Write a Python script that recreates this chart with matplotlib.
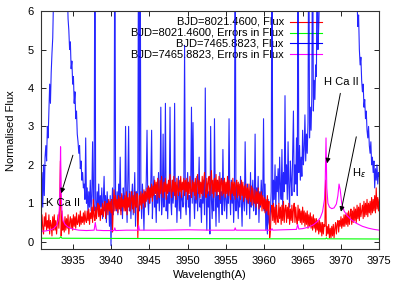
import numpy as np
import matplotlib
matplotlib.use('Agg')
import matplotlib.pyplot as plt

plt.rcParams['font.family'] = ['Liberation Sans', 'DejaVu Sans']
plt.rcParams['font.size'] = 8

# sample grid for the two flux series (Angstrom, 0.1 step)
wavelength = np.round(np.arange(3930.8, 3975.05, 0.1), 1)

# BJD=7465.8823 flux (values > 6 run off the top of the plot)
flux_7465 = [
    1.3, 0.3, 1.8, 0.9, 2.0, 1.2, 2.2, 2.5, 2.1, 3.0,
    2.7, 3.4, 4.1, 3.6, 4.4, 4.9, 5.3, 6.3, 7.5, 8.5,
    9, 9, 9, 9, 9, 9, 9, 9, 9, 9,
    9, 9, 9, 9, 8.0, 6.6, 5.8, 5.5, 5.0, 5.2,
    4.5, 4.7, 4.1, 4.3, 3.6, 3.9, 3.2, 3.4, 2.8, 2.6,
    2.3, 2.5, 1.9, 2.1, 1.6, 1.8, 1.4, 1.5, 1.1, 2.7,
    1.0, 1.4, 0.7, 1.3, 0.9, 1.6, 0.8, 1.2, 2.6, 1.0,
    0.8, 9.0, 1.1, 0.6, 1.3, 0.9, 1.5, 0.7, 1.2, 0.9,
    1.4, 0.6, 1.1, 1.7, 0.8, 1.2, 0.5, 1.3, 0.9, 1.0,
    0.4, 1.2, -0.1, 0.9, 1.4, 0.7, 1.1, 9.0, 1.0, 0.8,
    1.3, 0.7, 1.5, 1.0, 2.2, 0.8, 1.2, 0.6, 1.4, 1.1,
    0.9, 3.0, 1.2, 0.5, 1.6, 3.0, 0.8, 1.3, 0.6, 1.2,
    1.5, 0.7, 1.1, 1.8, 0.4, 1.3, 0.9, 1.4, 9.0, 0.8,
    9.0, 1.2, 0.6, 1.5, 1.0, 0.3, 1.3, 0.9, 1.6, 2.9,
    1.1, 0.7, 1.4, 1.0, 1.6, 2.9, 0.6, 1.3, 1.7, 0.9,
    1.2, 0.5, 1.5, 1.0, 1.8, 0.8, 1.3, 3.5, 0.7, 1.1,
    2.8, 0.9, 1.4, 3.6, 0.8, 1.2, 0.6, 1.5, 1.0, 3.5,
    1.1, 0.7, 1.6, 1.0, 1.3, 3.6, 0.9, 1.4, 0.5, 1.2,
    1.7, 0.8, 1.3, 0.6, 1.5, 1.1, 0.9, 1.4, 5.1, 1.0,
    0.7, 1.3, 1.8, 0.9, 1.2, 0.4, 1.5, 3.5, 1.0, 3.1,
    1.2, 0.6, 1.4, 1.0, 1.7, 0.8, 1.3, 2.2, 0.9, 1.1,
    0.5, 1.4, 1.0, 1.6, 0.7, 4.0, 1.2, 0.3, 1.5, 0.9,
    1.3, 0.2, 3.0, 1.1, 0.6, 1.4, 0.8, 3.2, 1.2, 0.4,
    1.6, 0.9, 1.2, 0.5, 1.8, 1.0, 1.3, 0.7, 2.4, 1.1,
    0.8, 1.5, 1.1, 0.6, 1.4, 1.0, 3.2, 1.3, 0.7, 1.6,
    1.0, 1.4, 0.5, 1.2, 9.0, 0.8, 1.5, 1.1, 0.6, 1.3,
    0.9, 1.7, 1.0, 0.4, 1.4, 1.1, 0.8, 2.6, 1.2, 0.7,
    1.5, 1.0, 1.3, 0.6, 1.8, 0.9, 1.2, 1.6, 0.8, 1.1,
    2.8, 0.7, 1.4, 1.0, 1.7, 0.5, 1.3, 0.9, 1.6, 1.1,
    1.2, 3.2, 0.8, 1.5, 0.3, 0.9, 0.2, 1.1, 0.5, 0.4,
    0.8, 1.3, 9.0, 0.9, 1.6, 1.1, 2.0, 0.8, 1.7, 1.3,
    1.9, 1.0, 2.2, 1.4, 1.1, 2.4, 0.9, 1.8, 1.3, 3.8,
    1.5, 2.0, 1.1, 2.6, 1.4, 0.9, 2.1, 1.6, 1.2, 2.3,
    3.4, 1.3, 2.0, 1.5, 2.7, 1.2, 9.0, 1.8, 2.5, 1.6,
    2.2, 1.7, 2.9, 2.0, 2.4, 3.3, 2.1, 2.8, 2.3, 3.1,
    9.0, 2.7, 3.5, 2.9, 3.8, 9.0, 3.4, 4.2, 3.7, 4.6,
    4.3, 9.0, 5.0, 5.6, 6.4, 7.5, 9, 9, 9, 9,
    9, 9, 9, 9, 9, 9, 9, 9, 9, 9,
    9, 9, 9, 9, 9, 9, 9, 9, 9, 9,
    9, 9, 9, 9, 9, 9, 9, 9, 9, 9,
    9, 9, 9, 9, 9, 9, 9, 9, 9, 9,
    9, 9, 8.0, 6.3, 5.6, 5.9, 5.0, 4.6, 4.8, 4.2,
    3.9, 4.1, 3.5, 3.7, 3.2, 3.4, 2.9, 2.7, 3.0, 2.5,
    2.3, 2.6, 2.0, 2.2, 1.8, 2.1, 1.4, 1.9, 1.6, 2.0,
    1.5, 1.8, 1.7,
]

# BJD=8021.4600 flux
flux_8021 = [
    0.6, 0.25, 0.7, 0.35, 0.2, 0.65, 0.4, 0.75, 0.3, 0.55,
    0.35, 0.7, 0.2, 0.55, 0.45, 0.15, 0.65, 0.3, 0.7, 0.3,
    0.55, 0.2, 0.5, 0.7, 0.35, 0.9, 2.1, 0.15, 0.8, 0.3,
    0.5, 0.25, 0.65, 0.3, 0.6, 0.35, 0.7, 0.2, 0.5, 0.65,
    0.35, 0.6, 0.3, 0.7, 0.4, 0.65, 0.35, 0.75, 0.45, 0.5,
    0.7, 0.4, 0.8, 0.45, 0.65, 0.5, 0.75, 0.45, 0.8, 0.55,
    0.5, 0.8, 0.55, 0.85, 0.45, 0.75, 0.6, 0.9, 0.5, 1.1,
    0.65, 0.55, 0.9, 0.6, 0.85, 1.0, 0.65, 0.95, 0.55, 0.85,
    0.7, 1.0, 0.65, 0.95, 1.05, 0.6, 0.9, 1.0, 0.7, 1.1,
    0.8, 1.05, 0.75, 1.1, 0.25, 0.95, 1.35, 0.8, 1.2, 0.85,
    1.1, 0.75, 1.2, 0.85, 1.15, 0.7, 1.25, 0.9, 1.1, 0.8,
    1.2, 0.8, 1.3, 0.7, 1.15, 0.9, 1.25, 0.8, 1.1, 1.3,
    0.85, 1.2, 0.75, 1.3, 0.95, 0.9, 1.25, 0.1, 0.85, 1.2,
    0.95, 1.3, 0.85, 1.25, 1.0, 1.35, 0.9, 1.3, 1.05, 1.4,
    1.1, 1.45, 1.0, 1.4, 1.15, 1.5, 1.05, 1.45, 1.2, 1.6,
    1.25, 1.55, 1.1, 1.65, 1.3, 1.15, 1.6, 1.25, 1.7, 1.35,
    1.15, 1.55, 1.3, 1.65, 1.1, 1.5, 1.25, 1.6, 1.3, 1.75,
    1.35, 1.15, 1.6, 1.3, 1.7, 1.2, 1.55, 1.1, 1.65, 1.35,
    1.2, 1.6, 1.3, 1.7, 1.15, 1.55, 1.35, 1.65, 1.2, 1.6,
    1.3, 1.65, 1.1, 1.55, 1.25, 1.7, 1.35, 1.15, 1.6, 1.3,
    1.55, 1.2, 1.65, 1.1, 1.5, 1.75, 1.25, 1.6, 1.15, 1.55,
    1.25, 1.7, 1.2, 1.6, 1.8, 1.3, 1.15, 1.65, 1.25, 1.55,
    1.7, 1.2, 1.55, 1.85, 1.25, 1.6, 1.15, 1.65, 1.3, 1.75,
    1.2, 1.6, 1.3, 1.7, 1.1, 1.55, 1.65, 1.2, 1.6, 1.25,
    1.65, 1.15, 1.55, 1.25, 1.7, 1.2, 1.6, 1.3, 1.1, 1.55,
    1.25, 1.65, 1.2, 1.55, 1.1, 1.5, 1.6, 1.15, 1.55, 1.2,
    1.5, 1.1, 1.6, 1.2, 1.55, 1.05, 1.45, 1.15, 1.5, 1.1,
    1.4, 1.0, 1.5, 1.15, 1.05, 1.45, 0.95, 1.4, 1.1, 1.0,
    1.35, 0.9, 1.3, 1.0, 1.4, 0.85, 1.25, 0.95, 1.3, 0.8,
    1.2, 0.85, 1.15, 0.75, 1.1, 0.8, 1.2, 0.7, 1.05, 0.1,
    0.3, 0.8, 0.95, 0.55, 1.0, 0.5, 0.9, 0.45, 0.95, 0.6,
    0.5, 1.0, 0.6, 0.9, 0.45, 0.95, 0.55, 1.05, 0.5, 0.85,
    0.95, 0.5, 0.9, 0.6, 1.0, 0.45, 0.85, 0.55, 0.95, 0.5,
    0.85, 1.0, 0.5, 0.9, 0.6, 0.45, 0.95, 0.55, 0.85, 0.5,
    0.8, 0.45, 0.9, 0.5, 0.8, 0.4, 0.75, 0.45, 0.8, 0.35,
    0.7, 0.4, 0.75, 0.35, 0.65, 0.3, 0.7, 0.35, 0.6, 0.25,
    0.6, 0.3, 0.55, 0.2, 0.55, 0.25, 0.5, 0.15, 0.5, 0.2,
    0.45, 0.4, 1.6, 0.15, 0.4, 0.2, 0.45, 0.1, 0.35, 0.1,
    0.4, 0.15, 0.45, 0.1, 0.35, 0.5, 0.2, 0.45, 0.55, 0.25,
    0.55, 0.4, 0.65, 0.35, 0.6, 0.4, 0.7, 0.4, 0.7, 0.45,
    0.75, 0.4, 0.8, 0.45, 0.7, 0.85, 0.45, 0.8, 0.5, 0.9,
    0.55, 0.85, 0.5, 0.95, 0.6, 0.9, 0.55, 1.0, 0.65, 0.8,
    0.95, 0.6, 1.05, 0.65, 1.0, 0.7, 1.1, 0.65, 1.0, 0.75,
    1.05, 0.7, 1.15, 0.75, 1.1, 0.8, 1.2, 0.75, 1.4, 0.85,
    1.15, 0.8, 1.1,
]

# errors in flux, BJD=7465.8823 (smooth, so sampled where it bends)
err_7465_wl = [3930.8, 3931.5, 3932.0, 3932.5, 3932.9, 3933.1, 3933.25, 3933.35, 3933.42, 3933.5,
               3933.6, 3933.75, 3934.0, 3934.4, 3935.0, 3935.8, 3936.8, 3937.8, 3937.95, 3938.1,
               3939.0, 3940.4, 3940.5, 3940.6, 3942.0, 3943.5, 3943.6, 3943.7, 3945.0, 3947.0,
               3950.0, 3953.0, 3956.1, 3956.2, 3956.3, 3958.0, 3960.9, 3961.0, 3961.1, 3962.5,
               3964.2, 3964.35, 3964.5, 3965.0, 3965.8, 3966.4, 3966.9, 3967.3, 3967.6, 3967.85,
               3967.95, 3968.05, 3968.15, 3968.3, 3968.5, 3968.8, 3969.1, 3969.4, 3969.6, 3969.75,
               3969.9, 3970.1, 3970.4, 3970.8, 3971.3, 3972.0, 3972.8, 3973.6, 3974.3, 3975.0]
err_7465 = [0.27, 0.28, 0.3, 0.34, 0.42, 0.55, 0.8, 1.4, 2.47, 1.3,
            0.75, 0.55, 0.45, 0.38, 0.33, 0.3, 0.29, 0.3, 0.5, 0.3,
            0.29, 0.29, 0.36, 0.29, 0.3, 0.3, 0.42, 0.3, 0.3, 0.3,
            0.31, 0.3, 0.3, 0.36, 0.3, 0.3, 0.3, 0.34, 0.3, 0.31,
            0.32, 0.45, 0.33, 0.34, 0.38, 0.44, 0.52, 0.62, 0.78, 1.1,
            1.6, 2.7, 1.4, 1.0, 0.9, 0.86, 0.88, 0.98, 1.2, 1.5,
            1.35, 1.0, 0.8, 0.68, 0.58, 0.48, 0.4, 0.35, 0.32, 0.3]

# errors in flux, BJD=8021.4600
err_8021_wl = [3930.8, 3933.3, 3933.45, 3933.6, 3940.0, 3950.0, 3960.0, 3968.0, 3968.1, 3968.2, 3975.0]
err_8021 = [0.09, 0.09, 0.13, 0.09, 0.085, 0.08, 0.075, 0.075, 0.1, 0.075, 0.07]

labels = ['BJD=8021.4600, Flux', 'BJD=8021.4600, Errors in Flux',
          'BJD=7465.8823, Flux', 'BJD=7465.8823, Errors in Flux']
colors = ['#ff0000', '#00ff00', '#0000ff', '#ff00ff']

fig = plt.figure(figsize=(3.99, 2.85), dpi=100)
ax = fig.add_axes([0.102, 0.125, 0.8486, 0.836])

ax.plot(wavelength, flux_7465, color=colors[2], lw=0.8, alpha=0.85, zorder=2)
ax.plot(wavelength, flux_8021, color=colors[0], lw=0.8, zorder=2.2)
ax.plot(err_8021_wl, err_8021, color=colors[1], lw=0.8, zorder=2.3)
ax.plot(err_7465_wl, err_7465, color=colors[3], lw=0.8, zorder=2.4)

ax.set_xlim(3930.83, 3975)
ax.set_ylim(-0.2, 6)
ax.set_xticks(np.arange(3935, 3976, 5))
ax.set_yticks(np.arange(0, 7, 1))
ax.tick_params(direction='in', top=True, right=True, length=3.5, width=0.6, pad=5)
for s in ax.spines.values():
    s.set_linewidth(0.8)
    s.set_color('#333333')

ax.set_xlabel('Wavelength(A)', labelpad=3)
ax.set_ylabel('Normalised Flux', labelpad=8)

# key, drawn under the data like the original
rows_y = [0.955, 0.909, 0.8645, 0.818]
for lab, c, yy in zip(labels, colors, rows_y):
    ax.text(0.718, yy, lab, transform=ax.transAxes, ha='right', va='center', zorder=1)
    ax.plot([0.737, 0.831], [yy, yy], color=c, lw=0.8, transform=ax.transAxes, zorder=1)

arrow = dict(arrowstyle='-|>', color='black', lw=0.7, mutation_scale=7, shrinkA=0, shrinkB=0)
ax.text(3931.56, 1.01, 'K Ca II', ha='left', va='center', zorder=4)
ax.annotate('', xy=(3933.51, 1.26), xytext=(3935.03, 2.25), arrowprops=arrow, zorder=4)
ax.text(3967.75, 4.16, 'H Ca II', ha='left', va='center', zorder=4)
ax.annotate('', xy=(3968.19, 2.04), xytext=(3969.92, 3.86), arrowprops=arrow, zorder=4)
ax.text(3971.5, 1.79, r'H$_\varepsilon$', ha='left', va='center', zorder=4)
ax.annotate('', xy=(3970.0, 0.78), xytext=(3972.0, 2.73), arrowprops=arrow, zorder=4)

fig.savefig('out.png', dpi=100)
